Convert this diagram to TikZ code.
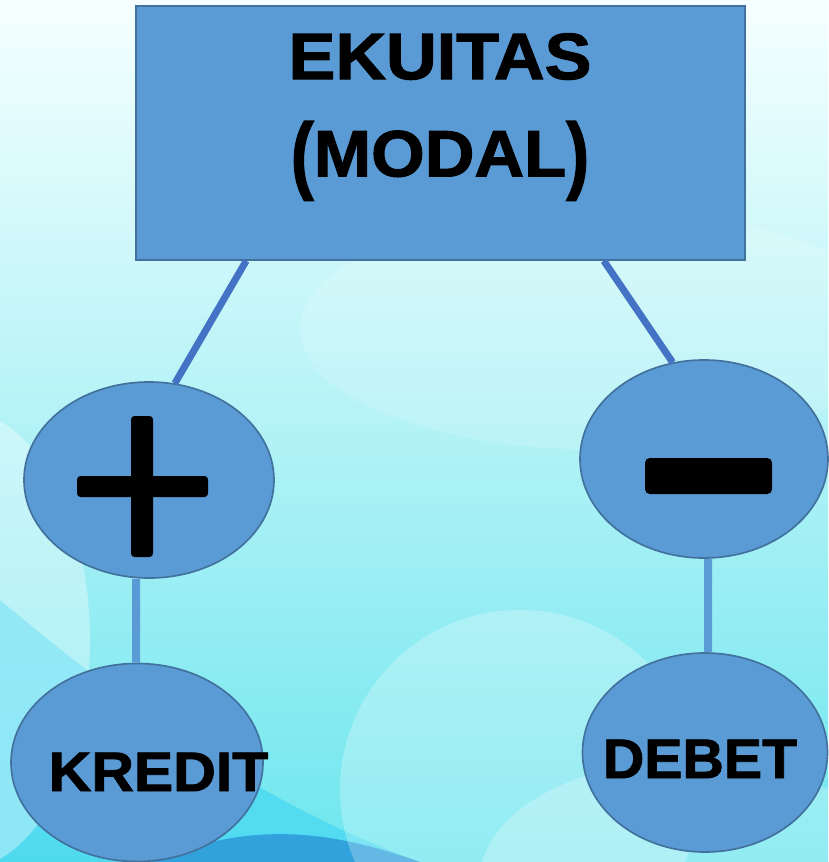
\documentclass[tikz,border=0pt]{standalone}
\usepackage{fontspec}
\setmainfont{Liberation Sans}[BoldFeatures={FakeBold=1.6}]
\usetikzlibrary{shapes.geometric, positioning}
\definecolor{kblue}{HTML}{5B9BD5}
\definecolor{kedge}{HTML}{41719C}
\definecolor{klink}{HTML}{4472C4}
\definecolor{bgtop}{HTML}{F6FFFF}
\definecolor{bgmid}{HTML}{C4FAFA}
\definecolor{bgbot}{HTML}{6EE6EE}
\definecolor{bgdeep}{HTML}{2A94D8}
\definecolor{bgcyan}{HTML}{44D6F2}
\tikzstyle{account} = [rectangle, minimum width=182.7mm, minimum height=76.2mm, inner sep=0pt, fill=kblue, draw=kedge, line width=0.5mm]
\tikzstyle{sign} = [ellipse, inner sep=0pt, fill=kblue, draw=kedge, line width=0.5mm]
\tikzstyle{title} = [align=center, font=\fontsize{56}{83}\selectfont\bfseries, text=black]
\tikzstyle{side} = [anchor=base, font=\fontsize{47.5}{50}\selectfont\bfseries, text=black]
\tikzstyle{link} = [klink, line width=2.1mm]
\tikzstyle{stem} = [kblue, line width=2.4mm]
\newcommand{\bigparen}[1]{\raisebox{-0.1em}{\scalebox{1}[1.3]{#1}}}

\begin{document}
\begin{tikzpicture}[x=0.3mm, y=-0.3mm]
  % background
  \shade[top color=bgtop, middle color=bgmid, bottom color=bgbot] (0,0) rectangle (828,862);
  \useasboundingbox (0,0) rectangle (828,862);
  \fill[bgcyan, opacity=0.7] (0,600) .. controls (120,700) and (250,800) .. (420,862) -- (0,862) -- cycle;
  \fill[bgdeep, opacity=0.8] (150,862) .. controls (250,820) and (330,830) .. (420,862) -- cycle;
  \fill[white, opacity=0.25] (520,790) ellipse (180 and 180);
  \fill[white, opacity=0.35] (-40,640) ellipse (130 and 230);
  \fill[white, opacity=0.25] (690,880) ellipse (210 and 120);
  \fill[white, opacity=0.15] (600,330) ellipse (300 and 120);

  \node (ekuitas) [account] at (440.5,133) {};
  \node (ekuitasText) [title] at (440,117) {\scalebox{1.07}[1]{EKUITAS}\\\scalebox{1.05}[1]{\bigparen{(}MODAL\bigparen{)}}};
  \node (plus) [sign, minimum width=75mm, minimum height=58.8mm] at (149,480) {};
  \node (minus) [sign, minimum width=74.4mm, minimum height=59.4mm] at (704,459) {};
  \node (kredit) [sign, minimum width=75.6mm, minimum height=59.4mm] at (137,762.5) {};
  \node (debet) [sign, minimum width=73.5mm, minimum height=59.7mm] at (705,752.5) {};
  \node (kreditText) [side] at (158.5,791) {\scalebox{1.06}[1]{KREDIT}};
  \node (debetText) [side] at (700,778) {\scalebox{1.03}[1]{DEBET}};

  % plus and minus signs
  \fill[rounded corners=3pt] (131,416) rectangle (153,557);
  \fill[rounded corners=3pt] (77,476) rectangle (208,497);
  \fill[rounded corners=4pt] (645,458) rectangle (772,494);

  \draw [link] ([xshift=33.3mm]ekuitas.south west) -- (plus.75);
  \draw [link] ([xshift=-42.6mm]ekuitas.south east) -- (minus.108);
  \draw [stem] ([xshift=-3.9mm]plus.south) -- ([xshift=-0.3mm]kredit.north);
  \draw [stem] ([xshift=1.2mm]minus.south) -- ([xshift=0.9mm]debet.north);
\end{tikzpicture}
\end{document}
